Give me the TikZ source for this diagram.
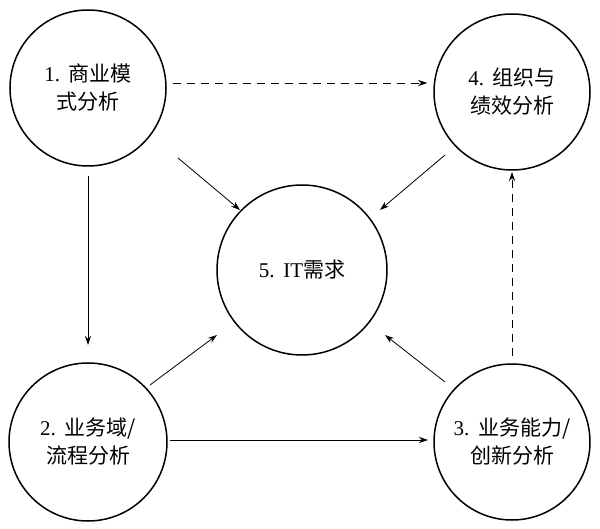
\documentclass[tikz,border=0pt]{standalone}
\usepackage{fontspec}
\setmainfont{Liberation Serif}
\newfontfamily\cjk{Noto Sans CJK SC}
\usetikzlibrary{arrows.meta}
\begin{document}
\begin{tikzpicture}[x=1pt,y=-1pt,
  circ/.style={circle,draw,line width=1.5pt,minimum size=156pt,inner sep=0pt,align=center,font=\fontsize{21}{28}\selectfont},
  arr/.style={-{Stealth[length=9pt,width=6pt]},line width=0.8pt},
  darr/.style={arr,dash pattern=on 8pt off 6pt}]
\useasboundingbox (0,0) rectangle (600,529);
\node[circ] (n1) at (88,88) {1.\ \,{\cjk 商业模}\\{\cjk 式分析}};
\node[circ] (n4) at (512,92) {4.\ \,{\cjk 组织与}\\{\cjk 绩效分析}};
\node[circ,minimum size=170pt] (n5) at (302,270) {5.\ \,IT{\cjk 需求}};
\node[circ,minimum size=158pt] (n2) at (88,442) {2.\ \,{\cjk 业务域/}\\{\cjk 流程分析}};
\node[circ] (n3) at (512,442) {3.\ \,{\cjk 业务能力/}\\{\cjk 创新分析}};
\draw[darr] (n1.east |- 0,83) ++(6,0) -- ([xshift=-6pt]n4.west |- 0,83);
\draw[arr] (178,158) -- (240,210);
\draw[arr] (445,155) -- (380,210);
\draw[arr] (88,176) -- (88,345);
\draw[arr] (150,385) -- (217,335);
\draw[arr] (445,382) -- (385,335);
\draw[arr] (170,440) -- (428,440);
\draw[darr] (512,356) -- (512,172);
\end{tikzpicture}
\end{document}
